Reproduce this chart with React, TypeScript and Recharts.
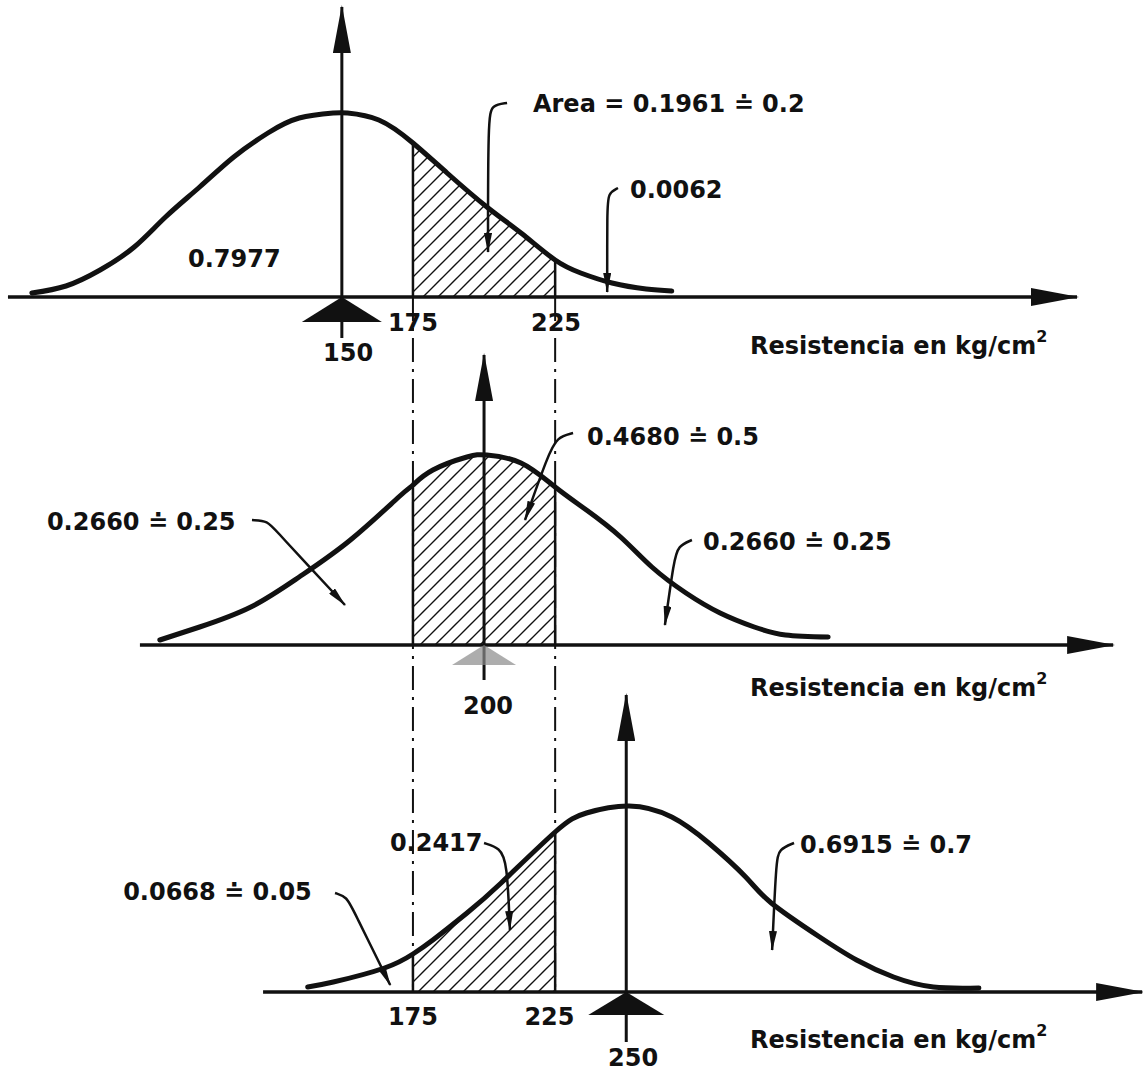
import React from "react";
import { Area, ComposedChart, Line, ReferenceLine, Scatter, XAxis, YAxis } from "recharts";

const W = 1143;
const H = 1072;
const X_DOMAIN = [29.8, 431.7];
const Y_DOMAIN = [0, 1072];
const INK = "#111";

// base height of each panel's axis (top, middle, bottom)
const baselines = [775, 427, 80];
const limits = [175, 225];

// [resistance kg/cm2, curve height]
const curve150 = [
  [41, 4], [53, 11], [65, 27], [77, 50], [88, 80], [100, 110], [112, 140], [124, 164],
  [135, 179], [147, 184], [152, 184], [163, 177], [175, 154], [187, 124], [201, 90],
  [213, 64], [225, 37], [234, 24], [245, 14], [257, 8], [266, 6],
];
const curve200 = [
  [86, 5], [100, 18], [118, 38], [135, 68], [153, 105], [170, 148], [175, 160], [182, 175],
  [194, 188], [201, 190], [213, 182], [225, 158], [236, 135], [248, 108], [259, 78],
  [271, 52], [283, 32], [295, 18], [306, 10], [321, 8],
];
const curve250 = [
  [138, 5], [147, 10], [165, 24], [175, 38], [182, 52], [194, 79], [206, 109], [225, 160],
  [236, 179], [251, 186], [266, 175], [279, 149], [292, 115], [301, 89], [318, 55],
  [331, 32], [344, 15], [358, 5], [374, 4],
];
const curves = [curve150, curve200, curve250];

// axis extents (resistance) per panel
const axisFrom = [32.6, 79.0, 122.3];
const axisTo = [408.5, 421.2, 431.4];

// mean arrows: position, bottom and tip heights
const means = [150, 200, 250];
const meanBottom = [-41, -35, -50];
const meanTip = [290, 290, 297];

// leader lines [resistance, height above panel axis]
const leaders = [
  { panel: 0, pts: [[208.1, 194], [202.8, 192], [201.4, 179], [201.4, 45]] },
  { panel: 0, pts: [[247.1, 109], [243.6, 104], [243.3, 87], [243.3, 5]] },
  { panel: 1, pts: [[118.4, 125], [124.1, 124], [126.5, 115], [151.1, 40]] },
  { panel: 1, pts: [[231.3, 212], [225.7, 208], [222.5, 190], [214.4, 125]] },
  { panel: 1, pts: [[273.1, 105], [268.2, 99], [266.8, 85], [263.6, 20]] },
  { panel: 2, pts: [[200.0, 149], [205.6, 144], [208.1, 130], [209.1, 62]] },
  { panel: 2, pts: [[147.6, 99], [151.8, 95], [154.0, 82], [167.0, 7]] },
  { panel: 2, pts: [[309.0, 149], [303.7, 143], [302.7, 130], [301.3, 42]] },
];

const RES = "Resistencia en kg/cm";
const labels = [
  { panel: 0, r: 217.2, dy: 193, text: "Area = 0.1961 \u2250 0.2", anchor: "start" },
  { panel: 0, r: 251.3, dy: 107, text: "0.0062", anchor: "start" },
  { panel: 0, r: 95.9, dy: 38, text: "0.7977", anchor: "start" },
  { panel: 0, r: 175, dy: -26, text: "175", anchor: "middle" },
  { panel: 0, r: 225.3, dy: -26, text: "225", anchor: "middle" },
  { panel: 0, r: 152.2, dy: -56, text: "150", anchor: "middle" },
  { panel: 0, r: 293.5, dy: -49, text: RES, sup: "2", anchor: "start" },
  { panel: 1, r: 236.2, dy: 208, text: "0.4680 \u2250 0.5", anchor: "start" },
  { panel: 1, r: 46.3, dy: 123, text: "0.2660 \u2250 0.25", anchor: "start" },
  { panel: 1, r: 277.0, dy: 103, text: "0.2660 \u2250 0.25", anchor: "start" },
  { panel: 1, r: 201.4, dy: -61, text: "200", anchor: "middle" },
  { panel: 1, r: 293.5, dy: -43, text: RES, sup: "2", anchor: "start" },
  { panel: 2, r: 166.9, dy: 149, text: "0.2417", anchor: "start" },
  { panel: 2, r: 73.1, dy: 100, text: "0.0668 \u2250 0.05", anchor: "start" },
  { panel: 2, r: 311.1, dy: 147, text: "0.6915 \u2250 0.7", anchor: "start" },
  { panel: 2, r: 175, dy: -25, text: "175", anchor: "middle" },
  { panel: 2, r: 223, dy: -25, text: "225", anchor: "middle" },
  { panel: 2, r: 252.4, dy: -66, text: "250", anchor: "middle" },
  { panel: 2, r: 293.5, dy: -48, text: RES, sup: "2", anchor: "start" },
];

const toPoints = (panel: number, pts: number[][]) =>
  pts.map(([r, h]) => ({ x: r, y: baselines[panel] + h }));

const hatchData = (panel: number) =>
  curves[panel]
    .filter(([r]) => r >= limits[0] && r <= limits[1])
    .map(([r, h]) => ({ x: r, range: [baselines[panel], baselines[panel] + h] }));

const heightAt = (panel: number, r: number) => {
  const p = curves[panel].find((q) => q[0] === r);
  return p ? p[1] : 0;
};

const triangles = [
  { x: means[0], y: baselines[0], half: 40, tall: 25, fill: INK, opacity: 1 },
  { x: means[1], y: baselines[1], half: 32, tall: 20, fill: "#8a8a8a", opacity: 0.7 },
  { x: means[2], y: baselines[2], half: 38, tall: 23, fill: INK, opacity: 1 },
];

const labelData = labels.map((l) => ({ ...l, x: l.r, y: baselines[l.panel] + l.dy }));

const renderTriangle = (p: any) => {
  const d = p.payload;
  const { cx, cy } = p;
  return (
    <polygon
      points={`${cx},${cy} ${cx - d.half},${cy + d.tall} ${cx + d.half},${cy + d.tall}`}
      fill={d.fill}
      opacity={d.opacity}
    />
  );
};

const renderLabel = (p: any) => {
  const d = p.payload;
  return (
    <text
      x={p.cx}
      y={p.cy}
      textAnchor={d.anchor}
      dominantBaseline="central"
      fontFamily="DejaVu Sans, Liberation Sans, sans-serif"
      fontWeight="bold"
      fontSize={24}
      fill={INK}
    >
      {d.text}
      {d.sup ? (
        <tspan dy={-10} fontSize={16}>
          {d.sup}
        </tspan>
      ) : null}
    </text>
  );
};

export default function App() {
  return (
    <div style={{ position: "absolute", left: 0, top: 0, width: W, height: H, background: "#fff" }}>
      <svg width={0} height={0} style={{ position: "absolute" }}>
        <defs>
          <pattern id="hatch" width={15} height={15} patternUnits="userSpaceOnUse">
            <path d="M-2,2 L2,-2 M0,15 L15,0 M13,17 L17,13" stroke={INK} strokeWidth={1.4} />
          </pattern>
          <marker id="bigArrow" viewBox="0 0 48 18" refX={46} refY={9} markerWidth={48} markerHeight={18} markerUnits="userSpaceOnUse" orient="auto">
            <path d="M0,0 L48,9 L0,18 Z" fill={INK} />
          </marker>
          <marker id="smallArrow" viewBox="0 0 20 8" refX={19} refY={4} markerWidth={20} markerHeight={8} markerUnits="userSpaceOnUse" orient="auto">
            <path d="M0,0 L20,4 L0,8 Z" fill={INK} />
          </marker>
        </defs>
      </svg>
      <ComposedChart width={W} height={H} margin={{ top: 0, right: 0, bottom: 0, left: 0 }}>
        <XAxis type="number" dataKey="x" domain={X_DOMAIN} allowDataOverflow hide />
        <YAxis type="number" domain={Y_DOMAIN} allowDataOverflow hide />

        {[0, 1, 2].map((i) => (
          <Area
            key={`hatch-${i}`}
            data={hatchData(i)}
            dataKey="range"
            type="natural"
            stroke="none"
            fill="url(#hatch)"
            fillOpacity={1}
            isAnimationActive={false}
          />
        ))}

        {limits.map((r) => (
          <ReferenceLine
            key={`dash-${r}`}
            segment={[{ x: r, y: baselines[0] }, { x: r, y: baselines[2] }]}
            stroke={INK}
            strokeWidth={2}
            strokeDasharray="24 7 3 7"
          />
        ))}

        {[0, 1, 2].map((i) =>
          limits.map((r) => (
            <ReferenceLine
              key={`edge-${i}-${r}`}
              segment={[{ x: r, y: baselines[i] }, { x: r, y: baselines[i] + heightAt(i, r) }]}
              stroke={INK}
              strokeWidth={2.5}
            />
          ))
        )}

        {[0, 1, 2].map((i) => (
          <Line
            key={`curve-${i}`}
            data={toPoints(i, curves[i])}
            dataKey="y"
            type="natural"
            stroke={INK}
            strokeWidth={5}
            strokeLinecap="round"
            dot={false}
            activeDot={false}
            isAnimationActive={false}
          />
        ))}

        {[0, 1, 2].map((i) => (
          <Line
            key={`axis-${i}`}
            data={toPoints(i, [[axisFrom[i], 0], [axisTo[i], 0]])}
            dataKey="y"
            type="linear"
            stroke={INK}
            strokeWidth={3.5}
            markerEnd="url(#bigArrow)"
            dot={false}
            activeDot={false}
            isAnimationActive={false}
          />
        ))}

        {[0, 1, 2].map((i) => (
          <Line
            key={`mean-${i}`}
            data={toPoints(i, [[means[i], meanBottom[i]], [means[i], meanTip[i]]])}
            dataKey="y"
            type="linear"
            stroke={INK}
            strokeWidth={3}
            markerEnd="url(#bigArrow)"
            dot={false}
            activeDot={false}
            isAnimationActive={false}
          />
        ))}

        {leaders.map((l, i) => (
          <Line
            key={`leader-${i}`}
            data={toPoints(l.panel, l.pts)}
            dataKey="y"
            type="basis"
            stroke={INK}
            strokeWidth={2.5}
            markerEnd="url(#smallArrow)"
            dot={false}
            activeDot={false}
            isAnimationActive={false}
          />
        ))}

        <Scatter data={triangles} dataKey="y" shape={renderTriangle} isAnimationActive={false} />
        <Scatter data={labelData} dataKey="y" shape={renderLabel} isAnimationActive={false} />
      </ComposedChart>
    </div>
  );
}
